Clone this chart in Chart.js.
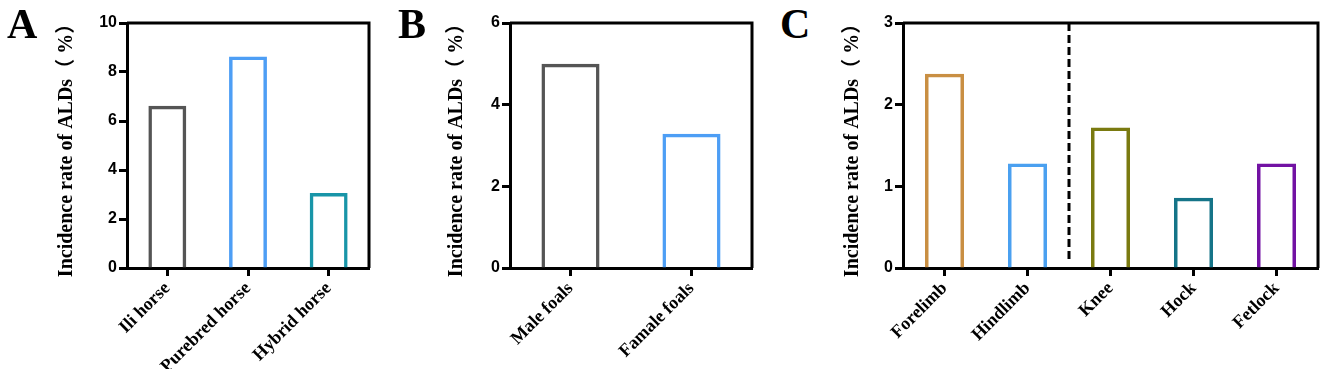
<!DOCTYPE html>
<html>
<head>
<meta charset="utf-8">
<script src="https://cdn.jsdelivr.net/npm/chart.js@4"></script>
<style>
    body { margin: 0; background: #fff; }
    #wrap { position: relative; width: 1326px; height: 369px; overflow: hidden; }
    .panel { position: absolute; top: 0; height: 369px; }
    .tag { position: absolute; top: 3px; font: bold 42px "Liberation Serif", "Times New Roman", serif; line-height: 42px; color: #000; }
</style>
</head>
<body>
<div id="wrap">
    <div class="panel" style="left:0px;width:385px"><canvas id="ChartA"></canvas></div>
    <div class="panel" style="left:392px;width:375px"><canvas id="ChartB"></canvas></div>
    <div class="panel" style="left:820px;width:506px"><canvas id="ChartC"></canvas></div>
    <div class="tag" style="left:7px">A</div>
    <div class="tag" style="left:398px">B</div>
    <div class="tag" style="left:780px">C</div>
</div>
<script>
const breedLabels = ["Ili horse", "Purebred horse", "Hybrid horse"];
const breedRates = [6.62, 8.63, 3.06];
const breedColors = ["#555555", "#4d9ef5", "#1895a8"];

const sexLabels = ["Male foals", "Famale foals"];
const sexRates = [5.0, 3.29];
const sexColors = ["#555555", "#4d9ef5"];

const siteLabels = ["Forelimb", "Hindlimb", "Knee", "Hock", "Fetlock"];
const siteRates = [2.38, 1.28, 1.72, 0.86, 1.28];
const siteColors = ["#c98f43", "#4aa0f0", "#7a7a10", "#157488", "#7212a3"];

const yTitle = "Incidence rate of ALDs\uff08 %\uff09";

// box round the plot area (top + right edges)
const framePlugin = {
    id: "frame",
    afterDraw(chart) {
        const a = chart.chartArea;
        const ctx = chart.ctx;
        ctx.save();
        ctx.strokeStyle = "#000";
        ctx.lineWidth = 3;
        ctx.beginPath();
        ctx.moveTo(a.left, a.top);
        ctx.lineTo(a.right, a.top);
        ctx.lineTo(a.right, a.bottom);
        ctx.stroke();
        ctx.restore();
    },
};

// dashed divider between limb groups and joints
const dividerPlugin = {
    id: "divider",
    afterDatasetsDraw(chart, args, opts) {
        if (opts.at === undefined) return;
        const x = chart.scales.x.getPixelForValue(opts.at);
        const y = chart.scales.y;
        const ctx = chart.ctx;
        ctx.save();
        ctx.strokeStyle = "#000";
        ctx.lineWidth = 3;
        ctx.setLineDash([8, 4]);
        ctx.beginPath();
        ctx.moveTo(x, chart.chartArea.top);
        ctx.lineTo(x, y.getPixelForValue(opts.bottom));
        ctx.stroke();
        ctx.restore();
    },
};

function makeChart(id, labels, values, colors, cfg) {
    const ctx = document.getElementById(id);
    new Chart(ctx, {
        type: "bar",
        data: {
            labels: labels,
            datasets: [
                {
                    data: values,
                    backgroundColor: "rgba(255,255,255,0)",
                    borderColor: colors,
                    borderWidth: 3.5,
                    borderSkipped: "start",
                    categoryPercentage: 1,
                    barPercentage: cfg.barPct,
                },
            ],
        },
        options: {
            responsive: true,
            maintainAspectRatio: false,
            animation: false,
            layout: {
                padding: { top: 23, right: cfg.padRight, left: 0, bottom: 0 },
            },
            plugins: {
                legend: { display: false },
                tooltip: { enabled: false },
                divider: cfg.divider || {},
            },
            scales: {
                x: {
                    afterFit: (s) => { s.height = 101; },
                    grid: {
                        offset: false,
                        drawOnChartArea: false,
                        tickLength: 8,
                        tickWidth: 3,
                        tickColor: "#000",
                    },
                    border: { display: true, color: "#000", width: 3 },
                    ticks: {
                        autoSkip: false,
                        minRotation: 45,
                        maxRotation: 45,
                        padding: 2,
                        color: "#000",
                        font: { family: "'Liberation Serif', 'Times New Roman', serif", size: 18, weight: "bold" },
                    },
                },
                y: {
                    min: 0,
                    max: cfg.yMax,
                    afterFit: (s) => { s.width = cfg.yWidth; },
                    grid: {
                        drawOnChartArea: false,
                        tickLength: 8,
                        tickWidth: 3,
                        tickColor: "#000",
                    },
                    border: { display: true, color: "#000", width: 3 },
                    ticks: {
                        stepSize: cfg.step,
                        padding: 2,
                        color: "#000",
                        font: { family: "'Liberation Sans', Arial, sans-serif", size: 16, weight: "bold" },
                    },
                    title: {
                        display: true,
                        text: yTitle,
                        color: "#000",
                        padding: { top: cfg.titleX - 12, bottom: 0 },
                        font: { family: "'Liberation Serif', 'Times New Roman', 'Noto Sans CJK SC', serif", size: 20, weight: "bold" },
                    },
                },
            },
        },
        plugins: [framePlugin, dividerPlugin],
    });
}

makeChart("ChartA", breedLabels, breedRates, breedColors, {
    yMax: 10, step: 2, yWidth: 127, padRight: 16, titleX: 67, barPct: 0.47,
});
makeChart("ChartB", sexLabels, sexRates, sexColors, {
    yMax: 6, step: 2, yWidth: 118, padRight: 15, titleX: 65, barPct: 0.48,
});
makeChart("ChartC", siteLabels, siteRates, siteColors, {
    yMax: 3, step: 1, yWidth: 83, padRight: 8, titleX: 33, barPct: 0.47,
    divider: { at: 1.5, bottom: 0.08 },
});
</script>
</body>
</html>
